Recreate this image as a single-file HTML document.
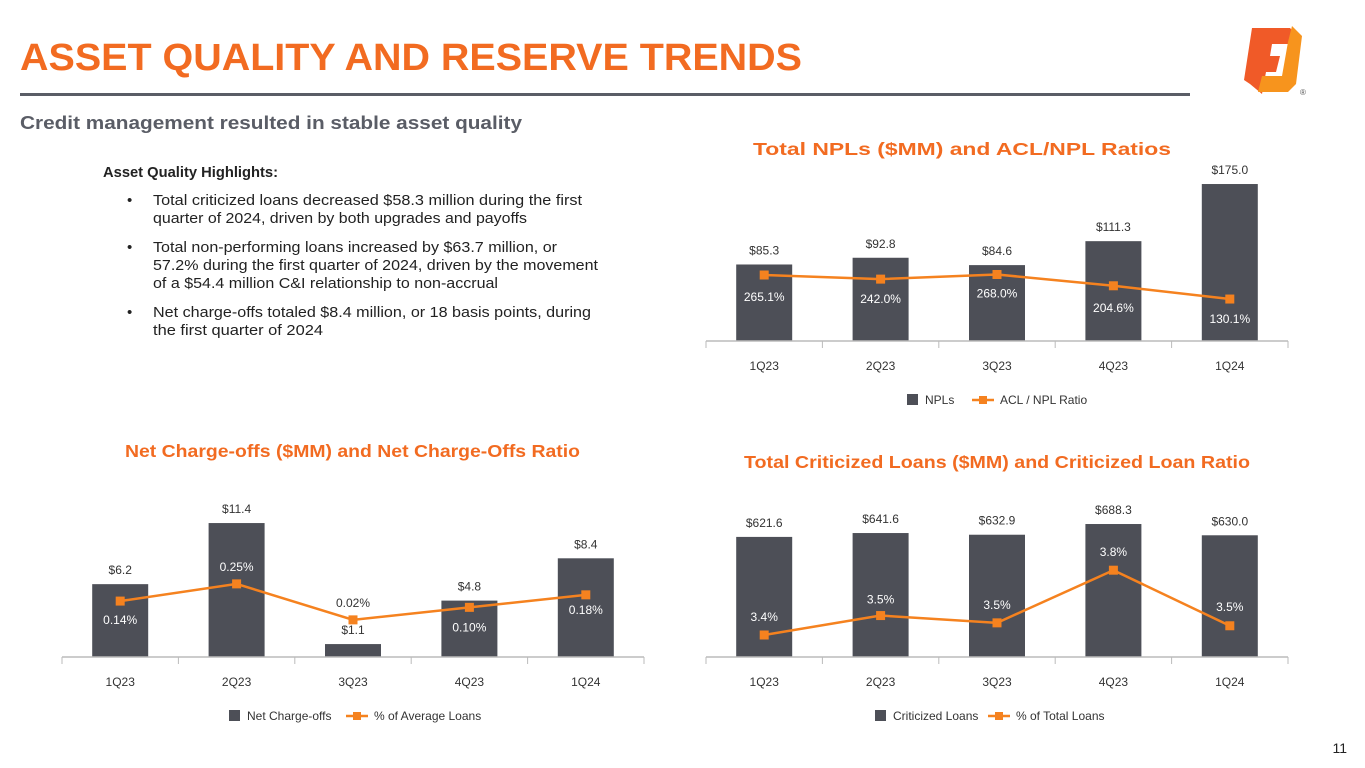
<!DOCTYPE html>
<html><head><meta charset="utf-8"><style>
body{margin:0;width:1365px;height:768px;background:#fff;font-family:"Liberation Sans",sans-serif;position:relative;overflow:hidden}
.abs{position:absolute}
</style></head><body>
<div class="abs" style="left:20px;top:93px;width:1170px;height:3px;background:#5a5d66"></div>
<svg class="abs" style="left:1238px;top:20px" width="70" height="80" viewBox="0 0 70 80">
<polygon points="14,8 52,8 58,14 56,24 34,24 32,36 42,36 38,52 28,52 24,74 12,64 6,60" fill="#F05A28"/>
<polygon points="54,6 64,16 58,64 50,72 20,72 24,56 44,56 50,22" fill="#F7941D"/>
<text x="62" y="75" font-size="8" fill="#555" font-family="Liberation Sans">®</text>
</svg>
<svg class="abs" style="left:0;top:0" width="1365" height="768" id="charts" font-family="Liberation Sans, sans-serif">
<text x="20" y="70" font-size="38" font-weight="bold" fill="#F26B21" textLength="782" lengthAdjust="spacingAndGlyphs">ASSET QUALITY AND RESERVE TRENDS</text>
<text x="20" y="129" font-size="18" font-weight="bold" fill="#5a5d66" textLength="502" lengthAdjust="spacingAndGlyphs">Credit management resulted in stable asset quality</text>
<g font-size="15" fill="#222">
<text x="103" y="177" font-weight="bold" textLength="175" lengthAdjust="spacingAndGlyphs">Asset Quality Highlights:</text>
<text x="127" y="205">•</text>
<text x="153" y="205" textLength="429" lengthAdjust="spacingAndGlyphs">Total criticized loans decreased $58.3 million during the first</text>
<text x="153" y="223" textLength="374" lengthAdjust="spacingAndGlyphs">quarter of 2024, driven by both upgrades and payoffs</text>
<text x="127" y="252">•</text>
<text x="153" y="252" textLength="404" lengthAdjust="spacingAndGlyphs">Total non-performing loans increased by $63.7 million, or</text>
<text x="153" y="270" textLength="445" lengthAdjust="spacingAndGlyphs">57.2% during the first quarter of 2024, driven by the movement</text>
<text x="153" y="288" textLength="345" lengthAdjust="spacingAndGlyphs">of a $54.4 million C&amp;I relationship to non-accrual</text>
<text x="127" y="317">•</text>
<text x="153" y="317" textLength="438" lengthAdjust="spacingAndGlyphs">Net charge-offs totaled $8.4 million, or 18 basis points, during</text>
<text x="153" y="335" textLength="170" lengthAdjust="spacingAndGlyphs">the first quarter of 2024</text>
</g>
<text x="753" y="155" font-size="17.5" font-weight="bold" fill="#F26B21" textLength="418" lengthAdjust="spacingAndGlyphs">Total NPLs ($MM) and ACL/NPL Ratios</text>
<text x="125" y="457" font-size="17.5" font-weight="bold" fill="#F26B21" textLength="455" lengthAdjust="spacingAndGlyphs">Net Charge-offs ($MM) and Net Charge-Offs Ratio</text>
<text x="744" y="468" font-size="17.5" font-weight="bold" fill="#F26B21" textLength="506" lengthAdjust="spacingAndGlyphs">Total Criticized Loans ($MM) and Criticized Loan Ratio</text>
<text x="1347" y="753" font-size="14" fill="#222" text-anchor="end">11</text>
</svg>
<script>
const categories=["1Q23","2Q23","3Q23","4Q23","1Q24"];
const nplValues=[85.3,92.8,84.6,111.3,175.0];
const aclRatio=[265.1,242.0,268.0,204.6,130.1];
const aclLabels=["265.1%","242.0%","268.0%","204.6%","130.1%"];
const ncoValues=[6.2,11.4,1.1,4.8,8.4];
const ncoRatio=[0.14,0.25,0.02,0.10,0.18];
const ncoLabels=["0.14%","0.25%","0.02%","0.10%","0.18%"];
const critValues=[621.6,641.6,632.9,688.3,630.0];
const critRatio=[3.40,3.52,3.475,3.80,3.457];
const critLabels=["3.4%","3.5%","3.5%","3.8%","3.5%"];

const NS="http://www.w3.org/2000/svg";
const svg=document.getElementById('charts');
function el(t,a,txt){const e=document.createElementNS(NS,t);for(const k in a)e.setAttribute(k,a[k]);if(txt!==undefined)e.textContent=txt;svg.appendChild(e);return e;}
function chart(o){
  const step=(o.x1-o.x0)/categories.length;
  const xc=i=>o.x0+step*(i+0.5);
  const yb=v=>o.base-v*o.bs;
  const yl=v=>o.lb-v*o.ls;
  o.bars.forEach((v,i)=>{
    const r=el('rect',{x:xc(i)-28,y:yb(v),width:56,height:o.base-yb(v),fill:'#4d4f57'});
    
    
    const t=el('text',{x:xc(i),y:yb(v)-10,'text-anchor':'middle','font-size':12,fill:'#333'},'$'+v.toFixed(1));
    
    
  });
  const ax=el('line',{x1:o.x0,x2:o.x1,y1:o.base,y2:o.base,stroke:'#bbb','stroke-width':1.5});
  
  
  for(let i=0;i<=categories.length;i++){const tk=el('line',{x1:o.x0+step*i,x2:o.x0+step*i,y1:o.base,y2:o.base+7,stroke:'#bbb'});
    
    }
  categories.forEach((c,i)=>{const t=el('text',{x:xc(i),y:o.base+29,'text-anchor':'middle','font-size':12,fill:'#333'},c);
    
    });
  const pl=el('polyline',{points:o.line.map((v,i)=>xc(i)+','+yl(v)).join(' '),fill:'none',stroke:'#F5821F','stroke-width':2.5});
  
  
  o.line.forEach((v,i)=>{
    const m=el('rect',{x:xc(i)-4.5,y:yl(v)-4.5,width:9,height:9,fill:'#F5821F'});
    
    
    const t=el('text',{x:xc(i),y:yl(v)+o.off[i]+4,'text-anchor':'middle','font-size':12,fill:o.white[i]?'#fff':'#333'},o.labels[i]);
    
    
  });
  const ly=o.base+59;
  const lg=el('rect',{x:o.lx,y:ly-6,width:11,height:11,fill:'#4d4f57'});
  
  
  const lt=el('text',{x:o.lx+18,y:ly+4,'font-size':12,fill:'#333'},o.l1);
  
  
  const lx2=o.lx+o.l2x;
  const ll=el('line',{x1:lx2,x2:lx2+22,y1:ly,y2:ly,stroke:'#F5821F','stroke-width':2.5});
  
  
  const lm=el('rect',{x:lx2+7,y:ly-4,width:8,height:8,fill:'#F5821F'});
  
  
  const lt2=el('text',{x:lx2+28,y:ly+4,'font-size':12,fill:'#333'},o.l2);
  
  
}
chart({name:'npl',x0:706,x1:1288,base:341,bs:0.897,bars:nplValues,line:aclRatio,lb:322.2,ls:0.178,labels:aclLabels,off:[22,20,19,22,20],white:[1,1,1,1,1],lx:907,l1:'NPLs',l2x:65,l2:'ACL / NPL Ratio'});
chart({name:'nco',x0:62,x1:644,base:657,bs:11.75,bars:ncoValues,line:ncoRatio,lb:623,ls:156.5,labels:ncoLabels,off:[19,-17,-17,20,15],white:[1,1,0,1,1],lx:229,l1:'Net Charge-offs',l2x:117,l2:'% of Average Loans'});
chart({name:'crit',x0:706,x1:1288,base:657,bs:0.1932,bars:critValues,line:critRatio,lb:1185.8,ls:162,labels:critLabels,off:[-18,-16,-18,-18,-19],white:[1,1,1,1,1],lx:875,l1:'Criticized Loans',l2x:113,l2:'% of Total Loans'});
</script>
</body></html>
